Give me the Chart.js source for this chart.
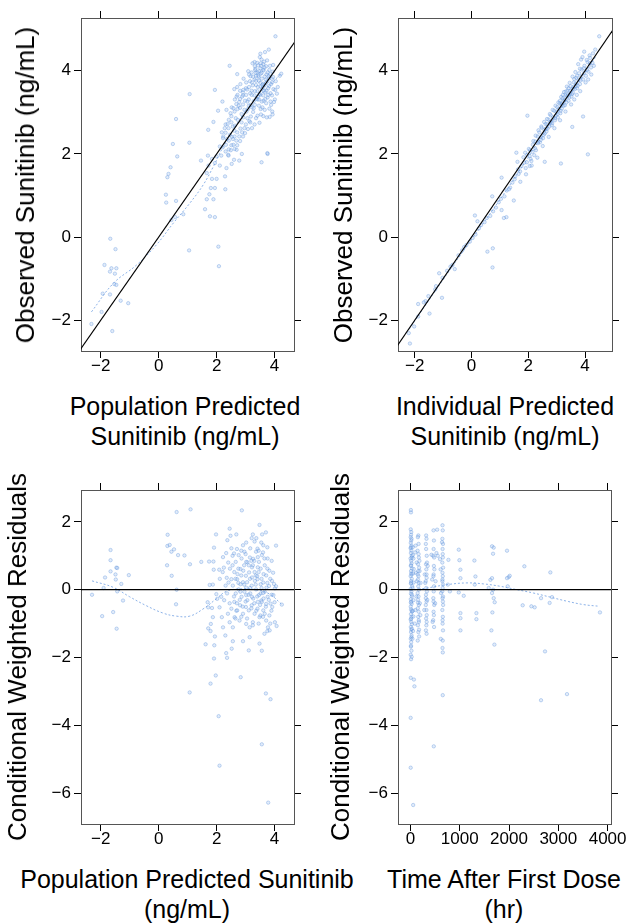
<!DOCTYPE html>
<html><head><meta charset="utf-8">
<script src="https://cdn.jsdelivr.net/npm/chart.js@4.4.0/dist/chart.umd.min.js"></script>
<style>
html,body{margin:0;padding:0;background:#fff;}
#fig{position:relative;width:629px;height:923px;overflow:hidden;font-family:'Liberation Sans',Arial,sans-serif;color:#000;}
canvas{position:absolute;}
.xt{position:absolute;font-size:25px;line-height:30px;white-space:nowrap;text-align:center;transform:translateX(-50%);}
.yt{position:absolute;font-size:26px;line-height:30px;white-space:nowrap;text-align:center;transform:translate(-50%,-50%) rotate(-90deg);}
</style></head><body>
<div id="fig">
<canvas id="c1" width="314" height="390" style="left:0;top:0;width:314px;height:390px"></canvas>
<canvas id="c2" width="315" height="390" style="left:314px;top:0;width:315px;height:390px"></canvas>
<canvas id="c3" width="314" height="400" style="left:0;top:460px;width:314px;height:400px"></canvas>
<canvas id="c4" width="315" height="400" style="left:314px;top:460px;width:315px;height:400px"></canvas>
<div class="yt" style="left:25px;top:185px">Observed Sunitinib (ng/mL)</div>
<div class="yt" style="left:343px;top:185px">Observed Sunitinib (ng/mL)</div>
<div class="yt" style="left:17px;top:657px">Conditional Weighted Residuals</div>
<div class="yt" style="left:340px;top:657px">Conditional Weighted Residuals</div>
<div class="xt" style="left:185px;top:391px">Population Predicted<br>Sunitinib (ng/mL)</div>
<div class="xt" style="left:505px;top:391px">Individual Predicted<br>Sunitinib (ng/mL)</div>
<div class="xt" style="left:187px;top:864px">Population Predicted Sunitinib<br>(ng/mL)</div>
<div class="xt" style="left:504px;top:864px">Time After First Dose<br>(hr)</div>
</div>
<script>
// ---------- tick labels ----------
const concTicks = [-2, 0, 2, 4];
const cwresTicks = [2, 0, -2, -4, -6];
const timeTicks = [0, 1000, 2000, 3000, 4000];

// ---------- Panel 1: PRED vs DV ----------
const predVsObs = [
[-1.67,-0.04],[-1.49,-0.29],[-1.87,-0.67],[-1.63,-0.75],[-1.46,-0.75],[-1.68,-0.83],[-1.51,-0.88],[-1.53,-1.13],[-1.46,-1.15],[-1.93,-1.36],[-1.68,-1.38],[-1.31,-1.53],[-1.05,-1.59],[-1.97,-1.80],[-2.32,-2.09],[-1.60,-2.26],
[1.07,3.44],[0.60,2.84],[0.49,2.24],[1.06,2.27],[0.64,1.94],[0.41,1.68],[0.34,1.52],[0.30,1.44],[0.25,1.02],[0.26,0.83],[0.60,0.87],[0.44,0.41],[0.57,0.48],[0.85,0.55],[1.05,-0.32],[2.06,-0.23],[2.08,-0.70],[1.94,3.54],[2.45,4.12],
[1.46,1.84],[1.60,0.67],[1.66,0.91],[1.77,0.50],[1.94,0.48],[1.75,1.03],[1.89,0.91],[1.80,1.18],[1.94,1.18],[1.84,1.40],[2.00,1.40],[1.66,1.54],[1.72,1.72],[1.70,1.96],[1.84,1.88],[1.94,1.78],[2.00,1.94],[2.11,1.72],[2.30,1.15],[2.29,1.46],[2.34,1.66],[2.52,1.76],[2.60,1.86],[2.78,1.84],[2.40,1.98],[2.49,2.09],[2.69,2.10],[2.87,2.00],[3.55,1.80],[3.76,2.00],[2.23,2.42],[2.11,2.18],[1.71,2.58],[1.89,2.77],[2.05,3.04],[2.20,3.26],[2.34,3.06],[2.61,3.56],[2.69,3.38],[2.92,3.54],
[4.03,4.83],[3.80,4.51],[3.67,4.45],[3.49,4.33],[3.40,4.19],[3.55,4.27],[3.32,4.11],[3.09,3.99],[3.17,3.87],[3.36,3.88],[3.47,3.99],[3.61,4.03],[3.70,3.79],[3.80,3.87],[3.95,4.14],[4.18,3.88],[4.23,3.93],[4.02,3.54],[3.83,2.89],[3.75,2.02],
[2.71,3.92],[2.82,3.68],[2.93,3.81],[3.01,3.58],[3.12,3.91],[3.22,3.72],[3.31,3.79],[3.42,3.61],[3.52,3.93],[3.61,3.69],[3.72,3.52],[3.81,3.63],[3.91,3.41],[3.33,4.02],[3.43,4.13],[3.52,4.18],[3.62,4.01],[3.21,3.52],[3.11,3.31],[3.02,3.42],[2.91,3.19],[2.81,3.32],[2.72,3.08],[2.62,3.02],[2.51,2.91],[2.63,2.68],[2.73,2.82],[2.82,2.61],[2.92,2.88],[3.03,3.02],[3.13,2.79],[3.22,3.12],[3.32,3.18],[3.41,3.31],[3.51,3.42],[3.62,3.28],[3.71,3.22],[3.82,3.09],[3.92,3.02],[4.01,3.31],[3.72,3.91],[3.82,4.02],[3.52,3.08],[3.41,2.92],[3.31,2.71],[3.22,2.62],[3.61,2.91],[2.41,2.62],[2.52,2.41],[2.42,2.32],[2.31,2.51],[2.62,2.42],[2.71,2.52],[2.51,2.21],[2.62,2.12],[2.42,2.11],[2.32,2.22],[2.22,2.38],[2.31,2.71],[2.42,2.82],[2.52,3.12],[2.63,3.31],[2.72,3.42],[2.81,3.52],[2.91,3.48],[3.02,3.72],[3.12,3.61],[3.21,3.42],[3.32,3.51],[3.42,3.38],[3.52,3.62],[3.62,3.52],[3.71,3.71],[3.81,3.82],[3.91,3.72],[3.46,3.76],[3.56,3.56],[3.66,3.86],[3.36,3.66],[3.26,3.86],[3.16,3.46],[3.06,3.26],[2.96,3.06],[2.86,2.96],[2.76,3.16],[2.66,2.86],[2.56,2.66],[3.76,3.36],[3.86,3.26],[3.96,3.56],[3.46,3.16],[3.56,3.26],[3.66,3.06],[3.26,3.01],[3.36,2.86],[3.16,2.76],[3.06,2.86],[2.96,2.62],[2.86,2.76],[3.51,4.06],[3.61,4.16],[3.71,4.11],[3.41,3.96],[3.31,4.21],[3.51,4.41],[3.61,3.61],[3.21,3.96],[3.76,3.96],[3.86,3.46],[3.91,3.81],[4.11,3.61],[3.11,3.16],[2.91,3.41],[2.71,3.61],[2.81,3.11],[3.01,2.71],[2.91,2.42],[2.81,2.31],[2.71,2.21],[2.61,2.56],[2.51,2.76],[2.46,2.46],[2.36,2.36],[2.31,2.06],[2.21,2.16],[2.16,1.96],[2.41,1.96],[2.56,2.36],[3.41,3.51],[3.51,3.71],[3.31,3.41],[3.46,3.31],[3.61,3.41],[3.56,3.81],[3.66,3.66],[3.36,3.76],
[3.05,3.55],[3.15,3.75],[3.25,3.65],[3.35,3.95],[3.45,3.85],[3.55,3.95],[3.65,4.08],[3.75,3.75],[3.85,3.92],[3.95,3.85],[3.38,3.33],[3.48,3.44],[3.58,3.66],[3.68,3.48],[3.78,3.58],[3.88,3.68],[3.28,3.27],[3.18,3.18],[3.08,3.08],[2.98,3.28],[2.88,3.38],[2.78,3.25],[2.68,3.20],[2.58,3.10],[2.48,2.98],[2.38,2.72],[2.28,2.62],[2.18,2.52],[2.58,2.22],[2.68,2.32],[2.78,2.42],[2.88,2.52],[2.98,2.50],[3.08,2.60],[3.18,2.90],[3.28,3.10],[3.48,2.75],[3.58,3.12],[3.68,3.32],[3.78,3.42],[3.44,3.88],[3.54,4.12],[3.64,4.22],[3.34,4.05],[3.24,4.18],[3.74,4.25],[3.84,4.12],[3.94,3.98],[4.04,3.75],[4.08,3.45],[3.98,3.25],[3.88,3.18],[3.93,2.95],[3.73,2.88],[3.53,2.95]
];
const predSmooth = [[-2.32,-1.80],[-1.56,-1.11],[-0.76,-0.67],[-0.07,-0.18],[0.51,0.34],[1.08,0.82],[1.54,1.26],[1.89,1.70],[2.23,2.18],[2.57,2.58],[3.03,3.06],[3.61,3.50],[4.18,3.90]];

// ---------- Panel 2: IPRED vs DV ----------
const ipredVsObs = [
[1.62,1.81],[1.71,1.58],[1.83,1.92],[1.91,1.66],[2.02,2.12],[2.08,1.88],[2.18,2.31],[2.27,2.09],[2.21,1.97],[2.33,2.42],[2.41,2.28],[2.47,2.63],[2.39,2.52],[2.52,2.38],[2.61,2.72],[2.58,2.49],[2.71,2.83],[2.68,2.61],[2.79,2.93],[2.83,2.69],[2.91,3.04],[2.94,2.81],[3.02,3.13],[3.04,2.88],[3.11,3.22],[3.13,2.98],[3.21,3.34],[3.18,3.09],[3.31,3.41],[3.29,3.17],[3.38,3.52],[3.42,3.28],[3.49,3.63],[3.52,3.38],[3.61,3.72],[3.58,3.47],[3.69,3.83],[3.72,3.58],[3.79,3.94],[3.82,3.68],[3.88,4.03],[3.93,3.79],[3.98,4.12],[4.03,3.88],[4.09,4.21],[4.12,3.98],[4.18,4.31],[4.21,4.08],[4.28,4.42],[4.36,4.51],[3.86,4.27],[3.91,4.33],[3.76,4.16],[3.66,3.97],[3.56,3.86],[3.46,3.71],[3.36,3.62],[3.26,3.49],[3.16,3.37],[3.06,3.24],[2.96,3.16],[2.86,3.06],[2.76,2.96],[2.66,2.84],[2.56,2.77],[2.46,2.66],[2.36,2.57],[2.26,2.44],[2.16,2.22],[2.06,2.09],[1.96,1.98],[1.86,1.79],[1.76,1.71],[1.66,1.52],[1.54,1.46],[1.44,1.31],[1.36,1.19],[1.24,1.12],[1.16,0.98],[1.04,0.92],[0.96,0.84],[0.86,0.71],[0.76,0.62],[0.66,0.51],[0.54,0.46],[0.46,0.36],[0.34,0.29],[0.26,0.21],[0.14,0.06],[0.04,-0.02],[-0.06,-0.11],[-0.26,-0.24],[-0.46,-0.44],[-0.74,-0.71],[-1.02,-0.98],[-1.28,-1.26],[-1.62,-1.54],[-1.88,-1.91],[-2.21,-2.31],
[3.62,3.31],[3.71,3.42],[3.83,3.51],[4.02,3.72],[3.31,3.02],[3.12,2.81],[2.92,2.62],[2.72,2.41],[2.51,2.19],[2.32,1.91],[2.12,1.72],[1.92,1.51],[1.72,1.33],[3.51,3.19],[4.22,3.91],[4.31,4.12],[4.11,3.79],[3.96,4.06],[3.84,3.77],[3.74,3.64],[3.64,3.56],[3.54,3.44],[3.44,3.36],[3.34,3.24],[3.24,3.16],[3.14,3.04],[3.03,2.96],[2.94,2.86],[2.84,2.74],[2.74,2.66],[2.64,2.54],[2.54,2.46],[2.44,2.34],[2.34,2.26],[2.24,2.14],[4.06,4.26],[4.16,4.37],[3.97,4.46],[4.26,4.19],[3.48,3.52],[3.59,3.61],[3.68,3.69],[3.39,3.42],[3.28,3.31],[3.19,3.21],[2.99,3.01],[2.81,2.79],[2.62,2.61],
[2.57,2.58],[2.67,2.71],[2.77,2.76],[2.87,2.88],[2.97,2.92],[3.07,3.08],[3.17,3.18],[3.27,3.28],[3.37,3.39],[3.47,3.45],[3.57,3.56],[3.67,3.63],[3.77,3.78],[3.87,3.86],[3.97,3.95],[4.07,4.02],[4.17,4.18],[3.62,3.80],[3.72,3.88],[3.82,4.05],[3.42,3.58],[3.32,3.50],[3.22,3.42],[3.12,3.28],[2.45,2.40],[2.35,2.30],[2.25,2.30],[2.15,2.05],[2.05,1.95],[1.95,1.80],
[4.10,1.99],[3.15,1.77],[2.58,1.81],[0.74,-0.73],[0.75,-0.27],[0.56,-0.35],[1.23,0.48],[1.14,0.46],[1.06,0.65],[0.12,0.52],[0.21,0.38],[-1.48,-1.84],[-1.04,-1.46],[-1.88,-1.61],[-2.17,-2.56],[-2.02,-2.15],[-1.68,-1.57],[-1.52,-1.42],[-1.25,-1.18],[-1.14,-0.87],[-0.86,-0.81],[-0.59,-0.77],[-0.67,-0.67],[-0.33,-0.32],[-0.18,-0.19],[0.73,0.98],[1.06,1.43],[1.49,0.88],[1.32,1.15],[1.52,1.39],[1.64,1.63],[1.58,2.03],[1.97,2.92],[1.89,2.03],[2.05,1.71],[2.11,1.83],[3.55,2.65],[3.93,2.90],[4.50,4.83]
];
const ipredSmooth = [[-2.2,-2.22],[-1.0,-1.02],[0.0,-0.06],[1.0,0.9],[2.0,1.92],[3.0,2.96],[4.0,3.96],[4.4,4.36]];

// ---------- Panel 3: PRED vs CWRES ----------
const predVsCwres = [
[1.10,2.37],[0.62,2.29],[2.87,2.34],[0.31,1.62],[0.30,1.29],[0.38,1.32],[0.44,1.12],[0.53,1.19],[0.67,1.02],[0.89,1.01],[0.29,0.72],[0.45,0.41],[1.08,0.75],[0.62,0.00],[0.60,-0.43],[1.07,-3.03],
[-1.66,1.17],[-1.66,0.87],[-1.66,0.54],[-1.46,0.65],[-1.43,0.64],[-1.49,0.45],[-1.48,0.30],[-1.85,0.36],[-1.03,0.43],[-1.29,0.17],[-1.90,0.05],[-1.43,-0.05],[-1.23,-0.32],[-2.30,-0.15],[-1.95,-0.78],[-1.57,-0.66],[-1.45,-1.15],
[1.47,0.82],[1.74,0.83],[1.89,0.83],[1.91,1.24],[1.98,1.63],[1.90,0.59],[2.09,0.59],[2.22,0.96],[2.33,1.08],[2.45,1.80],[2.48,1.59],[2.68,1.63],[2.37,1.46],[2.51,1.22],[2.60,1.07],[3.02,1.39],[3.25,1.63],[3.48,1.91],[3.57,1.63],[3.70,1.69],[4.05,1.30],[3.37,1.52],[3.54,1.39],[3.98,0.17],[4.01,0.04],[4.25,-0.44],[4.07,-1.07],[3.75,-1.22],[3.48,-1.59],[3.56,-1.80],[3.14,-1.40],[3.11,-1.79],[2.91,-1.52],[2.56,-1.52],[2.52,-1.74],[2.33,-1.87],[2.36,-2.01],[2.30,-1.35],[1.62,-1.61],[1.92,-1.64],[1.91,-2.03],[1.97,-2.53],[1.79,-2.77],[2.83,-2.58],[2.07,-3.73],[2.10,-5.19],[3.70,-3.06],[3.86,-3.23],[3.56,-4.56],[3.78,-6.28],
[1.69,-0.37],[1.76,0.14],[1.87,0.15],[1.71,-0.52],[1.84,-0.54],[1.87,-0.81],[1.80,-1.01],[1.71,-1.14],[1.79,-1.22],[1.94,-1.38],[1.99,-0.13],[2.02,-0.27],[2.10,-0.52],[2.18,-0.81],[2.22,-1.11],[2.39,-0.71],[2.45,-0.96],[2.56,-1.11],[2.62,-0.81],[2.68,-0.62],[2.79,-0.91],[2.91,-0.71],[3.02,-1.01],[3.14,-1.11],[3.25,-0.96],[3.37,-0.62],[3.48,-0.81],[3.66,-0.71],[3.77,-1.11],[3.83,-1.20],[3.89,-0.62],[4.00,-0.37],[3.71,-0.42],[3.54,-0.32],
[2.61,0.52],[2.71,0.31],[2.82,0.61],[2.91,0.22],[3.01,0.41],[3.11,0.72],[3.21,0.12],[3.31,0.52],[3.41,0.31],[3.52,0.62],[3.61,0.21],[3.71,0.42],[3.81,0.11],[2.66,0.82],[2.76,1.02],[2.86,0.92],[2.96,1.12],[3.06,0.81],[3.16,1.22],[3.26,0.91],[3.36,1.12],[3.46,0.82],[3.56,1.02],[3.66,0.72],[3.76,0.92],[2.56,0.12],[2.66,-0.11],[2.76,0.01],[2.86,-0.21],[2.96,-0.06],[3.06,-0.31],[3.16,-0.11],[3.26,-0.26],[3.36,0.01],[3.46,-0.16],[3.56,-0.36],[3.66,-0.06],[3.76,-0.21],[3.86,-0.41],[2.51,0.31],[2.46,0.62],[2.41,0.21],[2.36,-0.11],[2.31,0.12],[2.26,-0.31],[2.21,0.52],[2.16,-0.21],[2.11,0.32],[3.01,-0.51],[3.11,-0.61],[3.21,-0.46],[3.31,-0.71],[3.41,-0.56],[3.51,-0.76],[3.61,-0.61],[3.71,-0.91],[2.81,-0.46],[2.71,-0.61],[2.61,-0.36],[2.51,-0.56],[3.31,1.42],[3.41,1.21],[3.61,1.31],[3.21,1.52],[2.91,1.31],[3.02,0.06],[3.22,0.36],[3.42,0.66],[3.62,0.46],[3.82,0.56],[3.91,0.26],[3.96,-0.16],[3.92,-0.51],[3.82,-0.76],[4.01,-0.96],[3.12,0.51],[2.92,0.56],[3.32,0.26],[3.52,0.16],[3.72,0.06],[2.72,0.46],[2.82,0.16],[3.02,0.82],[3.22,0.66],[3.42,0.96],[3.52,-0.11],[3.62,-0.26],[3.42,-0.36],[3.22,-0.21],[3.02,-0.16],[2.82,-0.06],
[2.55,0.72],[2.65,0.32],[2.75,0.62],[2.85,0.42],[2.95,0.72],[3.05,0.22],[3.15,0.32],[3.25,0.72],[3.35,0.42],[3.45,0.52],[3.55,0.32],[3.65,0.92],[3.75,0.62],[3.85,0.32],[2.60,-0.20],[2.70,-0.40],[2.80,-0.30],[2.90,-0.50],[3.00,-0.35],[3.10,-0.15],[3.20,-0.55],[3.30,-0.40],[3.40,-0.20],[3.50,-0.45],[3.60,-0.80],[3.70,-0.50],[3.80,-0.30],[3.90,-0.15],[2.45,-0.40],[2.35,0.35],[2.25,0.65],[2.40,0.80],[2.55,1.00],[2.70,1.20],[2.85,1.15],[3.00,1.05],[3.15,0.95],[3.30,0.85],[3.45,1.15],[3.60,1.10],[3.75,1.25],[3.90,0.85],[3.05,-0.85],[3.25,-1.05],[3.45,-1.00],[3.65,-1.30],[3.85,-1.00],[2.85,-0.80],[2.65,-0.85],[3.15,0.05],[3.35,0.15],[3.55,0.05],[3.75,0.20],[2.95,0.15],[2.75,0.20],[3.95,0.50],[4.05,0.10],[3.60,-0.10],[3.40,0.40],[3.20,0.85]
];
const predCwresSmooth = [[-2.30,0.26],[-1.57,0.07],[-1.0,-0.21],[-0.43,-0.47],[0.15,-0.69],[0.61,-0.78],[1.07,-0.78],[1.53,-0.57],[1.99,-0.27],[2.33,-0.05],[2.79,0.02],[3.37,0.0],[3.83,-0.13],[4.23,-0.42]];

// ---------- Panel 4: TIME vs CWRES ----------
const timeVsCwres = [
[8,2.35],[10,2.28],[5,1.78],[12,1.62],[4,1.55],[15,1.45],[6,1.38],[20,1.30],[3,1.22],[18,1.15],[9,1.08],[25,1.0],[2,0.92],[14,0.85],[22,0.78],[7,0.70],[30,0.62],[11,0.55],[16,0.48],[4,0.40],[26,0.32],[13,0.25],[8,0.18],[35,0.10],[3,0.02],[19,-0.05],[10,-0.12],[28,-0.20],[6,-0.28],[17,-0.35],[24,-0.42],[5,-0.50],[12,-0.58],[32,-0.65],[9,-0.72],[21,-0.80],[4,-0.88],[15,-0.95],[27,-1.02],[7,-1.10],[18,-1.18],[11,-1.25],[23,-1.35],[6,-1.45],[14,-1.55],[9,-1.68],[20,-1.80],[5,-1.92],[12,-2.05],[6,-2.60],[4,-3.78],[5,-5.25],
[16,1.70],[22,1.50],[9,1.25],[28,0.95],[13,0.72],[24,0.45],[17,0.20],[31,-0.15],[8,-0.38],[26,-0.62],[14,-0.85],[29,-1.15],[19,-1.40],[11,-1.65],[25,-1.98],
[60,0.92],[55,0.48],[62,-0.31],[58,-0.79],[52,-1.22],[64,0.21],[70,-2.65],[80,-2.85],[55,-6.35],[48,1.02],[66,0.61],[50,-0.62],[45,1.25],[40,-1.45],[42,0.05],
[95,1.1],[110,0.5],[120,-0.2],[100,-0.6],[130,0.25],[88,-1.0],[125,0.8],[105,1.3],
[160,1.60],[150,1.55],[165,1.35],[145,1.15],[170,0.95],[155,0.75],[175,0.65],[148,0.45],[162,0.40],[152,0.30],[168,0.20],[158,0.10],[172,0.00],[146,-0.10],[163,-0.20],[155,-0.30],[170,-0.45],[149,-0.55],[166,-0.65],[157,-0.80],[171,-0.95],[151,-1.05],[160,-1.25],[175,-1.38],[147,-1.50],[185,0.55],[190,-0.40],[182,0.85],[200,-0.75],[205,0.2],[165,1.05],[158,0.55],[152,-0.38],[168,-0.90],[174,-1.18],
[318,1.60],[325,1.50],[312,1.35],[330,1.00],[316,0.75],[322,0.60],[328,0.35],[310,0.25],[320,0.05],[333,-0.05],[315,-0.15],[326,-0.35],[311,-0.45],[324,-0.60],[330,-0.75],[317,-0.85],[322,-1.05],[314,-1.20],[327,-1.30],[335,0.80],[300,0.20],[340,-0.30],[290,0.45],[350,0.70],[280,-0.6],[318,1.20],[326,0.45],[312,-0.25],[329,-0.95],
[468,1.75],[476,1.45],[462,1.00],[480,0.95],[470,0.45],[466,0.40],[478,0.10],[472,-0.05],[464,-0.25],[482,-0.45],[469,-0.65],[475,-0.75],[461,-0.90],[479,-1.10],[473,-4.62],[485,0.60],[426,1.03],[527,1.08],[554,1.00],[541,1.77],[440,0.3],[500,-0.4],[510,0.25],[450,-0.95],[470,1.20],[475,0.70],[468,-0.35],
[650,1.90],[655,1.75],[648,1.50],[660,1.35],[652,1.20],[658,0.95],[646,0.80],[662,0.65],[650,0.50],[656,0.40],[648,0.25],[661,0.15],[653,0.05],[645,-0.05],[659,-0.20],[651,-0.25],[663,-0.45],[647,-0.60],[657,-0.80],[652,-1.00],[660,-1.20],[655,-1.50],[650,-1.72],[656,-1.85],[655,-3.11],[615,-1.45],[612,0.60],[620,-0.10],[640,1.4],[600,0.9],[655,1.05],[649,0.30],[658,-0.35],[652,-0.90],
[770,0.88],[800,-0.05],[760,0.15],[980,1.18],[993,0.87],[1014,0.59],[1014,0.34],[980,-0.08],[1014,-0.69],[1014,-0.84],[1014,-1.20],[1081,-0.18],[1297,0.86],[1318,0.39],[1304,0.15],[1338,-0.69],[1338,-0.87],[1588,0.05],[1655,1.28],[1689,1.24],[1676,1.06],[1622,0.29],[1655,0.34],[1676,0.0],[1655,-0.10],[1689,-0.25],[1709,-0.37],[1662,-0.67],[1642,-1.20],[1703,-1.62],[1959,1.15],[1993,0.37],[1959,0.34],[1973,0.10],[2014,0.41],[2311,0.69],[2277,-0.46],[2453,-0.49],[2520,-0.52],[2649,-0.25],[2730,-1.82],[2649,-3.26],[2838,0.51],[2872,-0.22],[2824,-0.39],[3176,-3.08],[3845,-0.67]
];
const timeCwresSmooth = [[0,-0.02],[338,0.05],[743,0.15],[1149,0.2],[1486,0.17],[1824,0.10],[2162,0.0],[2500,-0.1],[2838,-0.22],[3176,-0.34],[3514,-0.44],[3838,-0.49]];

// reference lines (identity / zero), clipped to the plot area
const identityLine = [[-3,-3],[6,6]];
const zeroLine = [[-500,0],[5000,0]];

// ---------- drawing ----------
const FONT = "'Liberation Sans', Arial, sans-serif";
const toXY = a => a.map(p => ({x:p[0], y:p[1]}));
const fmt = v => String(v).replace('-', '\u2212');

function panel(id, o) {
  const cv = document.getElementById(id);
  const W = cv.width, H = cv.height, A = o.area;
  const tickFont = {family: FONT, size: 17, lineHeight: 1};
  const grid = {drawOnChartArea: false, drawTicks: true, tickLength: 7, color: '#000', lineWidth: 1};
  const border = {display: true, color: '#555', width: 1};
  const setTicks = vals => s => { s.ticks = vals.map(v => ({value: v})); };
  const mk = (axisPos, rng, vals, showLbl, size) => ({
    type: 'linear', position: axisPos, min: rng[0], max: rng[1],
    afterBuildTicks: setTicks(vals),
    ticks: {display: showLbl, font: tickFont, color: '#000', padding: axisPos === 'left' ? 3 : 0, maxRotation: 0, autoSkip: false, callback: v => fmt(v)},
    grid: grid, border: border,
    afterFit: s => {
      if (axisPos === 'left' || axisPos === 'right') s.width = size; else s.height = size;
      s.paddingLeft = 0; s.paddingRight = 0; s.paddingTop = 0; s.paddingBottom = 0;
    }
  });
  new Chart(cv, {
    type: 'scatter',
    data: {datasets: [
      {data: toXY(o.ref), showLine: true, borderColor: '#000', borderWidth: 1.2, pointRadius: 0, tension: 0},
      {data: toXY(o.smooth), showLine: true, borderColor: 'rgba(120,165,228,0.85)', borderWidth: 1, borderDash: [2, 2], pointRadius: 0, tension: 0.4},
      {data: toXY(o.pts), pointRadius: 1.7, pointBorderWidth: 0.7, backgroundColor: 'rgba(160,192,238,0.3)', borderColor: 'rgba(70,130,212,0.45)'}
    ]},
    options: {
      responsive: false, animation: false, devicePixelRatio: 1,
      layout: {padding: 0},
      plugins: {legend: {display: false}, tooltip: {enabled: false}},
      events: [],
      scales: {
        x: mk('bottom', o.xr, o.xt, true, H - A.bottom),
        x2: mk('top', o.xr, o.xt, false, A.top),
        y: mk('left', o.yr, o.yt, true, A.left),
        y2: mk('right', o.yr, o.yt, false, W - A.right)
      }
    }
  });
}

panel('c1', {pts: predVsObs, smooth: predSmooth, ref: identityLine, xr: [-2.68, 4.67], yr: [-2.74, 5.27], xt: concTicks, yt: concTicks, area: {left: 81, top: 18, right: 294, bottom: 351}});
panel('c2', {pts: ipredVsObs, smooth: ipredSmooth, ref: identityLine, xr: [-2.59, 4.95], yr: [-2.74, 5.27], xt: concTicks, yt: concTicks, area: {left: 84, top: 18, right: 298, bottom: 351}});
panel('c3', {pts: predVsCwres, smooth: predCwresSmooth, ref: zeroLine, xr: [-2.68, 4.67], yr: [-6.91, 2.94], xt: concTicks, yt: cwresTicks, area: {left: 81, top: 30, right: 294, bottom: 364}});
panel('c4', {pts: timeVsCwres, smooth: timeCwresSmooth, ref: zeroLine, xr: [-253, 4069], yr: [-6.91, 2.94], xt: timeTicks, yt: cwresTicks, area: {left: 84, top: 30, right: 297, bottom: 364}});
</script>
</body></html>
